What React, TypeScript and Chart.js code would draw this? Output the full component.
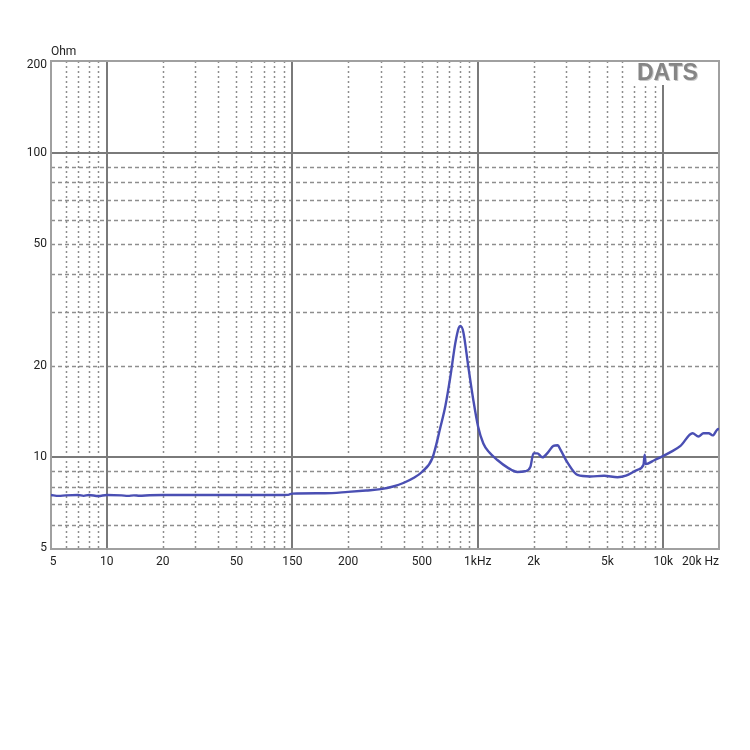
import { useEffect, useRef } from 'react';
import Chart from 'chart.js/auto';

// impedance curve (Hz, Ohm)
const freqs = [
  5, 5.5, 6, 7, 7.5, 8, 9, 10, 12, 13, 14, 15, 17, 20, 30, 50, 80, 95,
  100, 150, 200, 250, 300, 350, 400, 450, 500, 570, 630, 670, 712, 757, 790, 806, 836, 890, 947,
  1005, 1072, 1150, 1276, 1450, 1636, 1800, 1923, 1997, 2098, 2232, 2400, 2559, 2700, 2792, 3050, 3450,
  4050, 4800, 5670, 6300, 7270, 7830, 7950, 8050, 9000, 9670, 10950, 12400, 14400, 15500, 16500, 17600, 18500, 19800, 20000,
];
const ohms = [
  7.52, 7.47, 7.5, 7.52, 7.47, 7.52, 7.46, 7.52, 7.5, 7.47, 7.5, 7.48, 7.51, 7.52, 7.52, 7.52, 7.52, 7.53,
  7.6, 7.62, 7.7, 7.78, 7.86, 8.02, 8.25, 8.55, 8.95, 9.95, 12.6, 14.8, 18.4, 23.7, 26.6, 27.0, 25.8, 19.8, 15.4,
  12.6, 11.1, 10.4, 9.8, 9.25, 8.95, 9.0, 9.3, 10.3, 10.3, 10.0, 10.4, 10.9, 10.95, 10.6, 9.6, 8.75,
  8.65, 8.7, 8.6, 8.7, 9.1, 9.45, 10.2, 9.5, 9.8, 10.0, 10.4, 10.9, 12.0, 11.7, 12.0, 12.0, 11.8, 12.4, 12.3,
];

const xTickValues = [5, 10, 20, 50, 100, 200, 500, 1000, 2000, 5000, 10000, 20000];
const xTickLabels = ['5', '10', '20', '50', '150', '200', '500', '1kHz', '2k', '5k', '10k', '20k Hz'];
const yTickValues = [5, 10, 20, 50, 100, 200];
const yTickLabels = ['5', '10', '20', '50', '100', '200'];

const xMajor = [10, 100, 1000, 10000];
const xMinor = [6, 7, 8, 9, 20, 30, 40, 50, 60, 70, 80, 90, 200, 300, 400, 500, 600, 700, 800, 900,
  2000, 3000, 4000, 5000, 6000, 7000, 8000, 9000];
const yMajor = [10, 100];
const yMinor = [6, 7, 8, 9, 20, 30, 40, 50, 60, 70, 80, 90];

const FONT = '12px Roboto, "Liberation Sans", Arial, sans-serif';

const datsFrame = {
  id: 'datsFrame',
  beforeDatasetsDraw(chart: any) {
    const { ctx, chartArea: a, scales } = chart;
    const x = scales.x;
    const y = scales.y;
    ctx.save();

    // minor dashed grid
    ctx.strokeStyle = '#8e8e8e';
    ctx.lineWidth = 1.5;
    ctx.setLineDash([2, 3]);
    xMinor.forEach((v) => {
      const px = Math.round(x.getPixelForValue(v)) + 0.5;
      ctx.beginPath();
      ctx.moveTo(px, a.top);
      ctx.lineTo(px, a.bottom);
      ctx.stroke();
    });
    ctx.setLineDash([4, 3]);
    yMinor.forEach((v) => {
      const py = Math.round(y.getPixelForValue(v)) + 0.5;
      ctx.beginPath();
      ctx.moveTo(a.left, py);
      ctx.lineTo(a.right, py);
      ctx.stroke();
    });
    ctx.setLineDash([]);

    // DATS box hides the grid under the logo
    ctx.fillStyle = '#fff';
    ctx.fillRect(630, a.top, a.right - 630, 24);

    // major solid grid
    ctx.strokeStyle = '#7a7a7a';
    ctx.lineWidth = 2;
    xMajor.forEach((v) => {
      const px = Math.round(x.getPixelForValue(v));
      ctx.beginPath();
      ctx.moveTo(px, v === 10000 ? a.top + 24 : a.top);
      ctx.lineTo(px, a.bottom);
      ctx.stroke();
    });
    yMajor.forEach((v) => {
      const py = Math.round(y.getPixelForValue(v));
      ctx.beginPath();
      ctx.moveTo(a.left, py);
      ctx.lineTo(a.right, py);
      ctx.stroke();
    });

    // frame
    ctx.strokeStyle = '#a0a0a0';
    ctx.lineWidth = 2;
    ctx.strokeRect(a.left, a.top, a.right - a.left, a.bottom - a.top);

    // logo
    ctx.font = 'bold 23px "Liberation Sans", Arial, sans-serif';
    ctx.textAlign = 'left';
    ctx.textBaseline = 'middle';
    ctx.fillStyle = '#c8c8c8';
    ctx.fillText('DATS', 638, 75);
    ctx.fillStyle = '#858585';
    ctx.fillText('DATS', 637, 74);

    // tick labels
    ctx.font = FONT;
    ctx.fillStyle = '#222';
    ctx.textBaseline = 'middle';
    xTickValues.forEach((v, i) => {
      const px = x.getPixelForValue(v);
      if (i === xTickValues.length - 1) {
        ctx.textAlign = 'right';
        ctx.fillText(xTickLabels[i], a.right, 562);
      } else {
        ctx.textAlign = 'center';
        ctx.fillText(xTickLabels[i], px + (i === 0 ? 2 : 0), 562);
      }
    });
    ctx.textAlign = 'right';
    yTickValues.forEach((v, i) => {
      const py = Math.min(Math.max(y.getPixelForValue(v), a.top + 3.5), a.bottom - 1.5);
      ctx.fillText(yTickLabels[i], 47, py);
    });
    ctx.textAlign = 'left';
    ctx.fillText('Ohm', 51, 52);
    ctx.restore();
  },
};

export default function App() {
  const chartRef = useRef<HTMLCanvasElement>(null);
  const chartInstanceRef = useRef<Chart | null>(null);

  useEffect(() => {
    if (!chartRef.current) return;
    if (chartInstanceRef.current) chartInstanceRef.current.destroy();
    const ctx = chartRef.current.getContext('2d');
    if (!ctx) return;

    chartInstanceRef.current = new Chart(ctx, {
      type: 'line',
      data: {
        datasets: [
          {
            label: 'Impedance',
            data: freqs.map((f, i) => ({ x: f, y: ohms[i] })),
            borderColor: '#4a4fb3',
            borderWidth: 2.4,
            pointRadius: 0,
            cubicInterpolationMode: 'monotone',
          },
        ],
      },
      options: {
        animation: false,
        responsive: true,
        maintainAspectRatio: false,
        layout: { padding: { left: 51, top: 61, right: 31, bottom: 201 } },
        plugins: { legend: { display: false }, tooltip: { enabled: false } },
        scales: {
          x: { type: 'logarithmic', min: 5, max: 20000, display: false },
          y: { type: 'logarithmic', min: 5, max: 200, display: false },
        },
      },
      plugins: [datsFrame],
    });

    return () => {
      if (chartInstanceRef.current) chartInstanceRef.current.destroy();
    };
  }, []);

  return (
    <div style={{ position: 'absolute', left: 0, top: 0, width: 750, height: 750, background: '#fff' }}>
      <canvas ref={chartRef}></canvas>
    </div>
  );
}
